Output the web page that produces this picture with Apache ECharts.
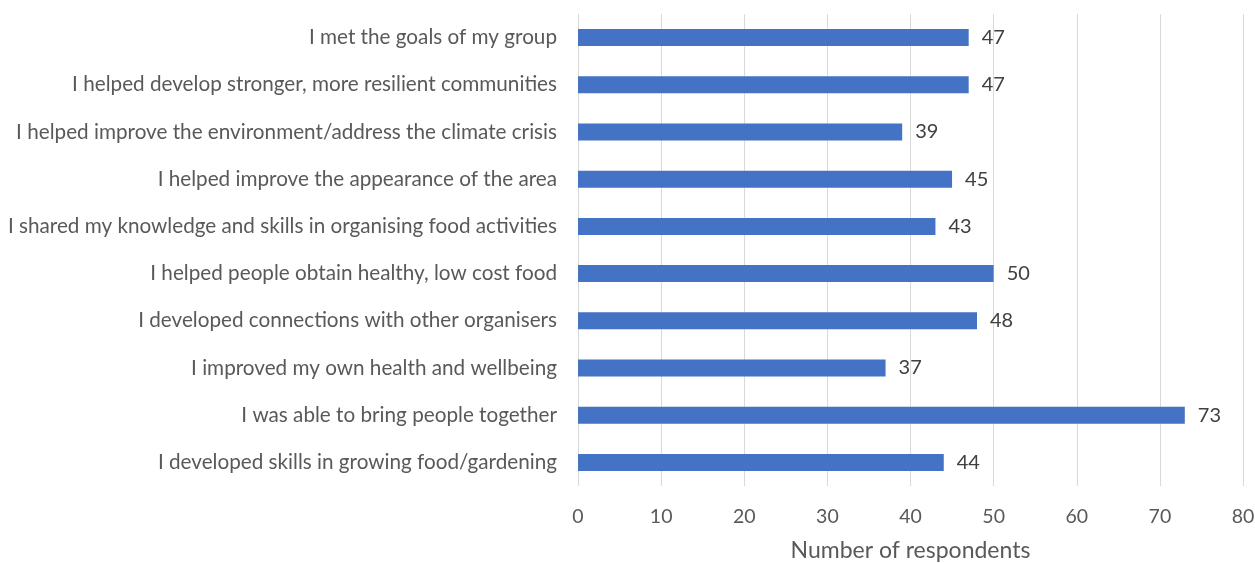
<!DOCTYPE html>
<html><head><meta charset="utf-8">
<script src="https://cdn.jsdelivr.net/npm/echarts@6/dist/echarts.min.js"></script>
<style>html,body{margin:0;padding:0;background:#fff}#c{width:1255px;height:563px}</style>
</head><body><div id="c"></div>
<script>
const categories = [
  "I developed skills in growing food/gardening",
  "I was able to bring people together",
  "I improved my own health and wellbeing",
  "I developed connections with other organisers",
  "I helped people obtain healthy, low cost food",
  "I shared my knowledge and skills in organising food activities",
  "I helped improve the appearance of the area",
  "I helped improve the environment/address the climate crisis",
  "I helped develop stronger, more resilient communities",
  "I met the goals of my group"
];
const values = [44, 73, 37, 48, 50, 43, 45, 39, 47, 47];
const xTicks = [0, 10, 20, 30, 40, 50, 60, 70, 80];
const xName = "Number of respondents";

const FONT = "Lato";
const chart = echarts.init(document.getElementById('c'), null, {renderer: 'canvas'});
chart.setOption({
  animation: false,
  textStyle: {fontFamily: FONT},
  grid: {left: 578, right: 12, top: 14, bottom: 77, containLabel: false, outerBoundsMode: 'none'},
  xAxis: {
    type: 'value', min: xTicks[0], max: xTicks[xTicks.length - 1], interval: 10,
    axisLine: {show: false}, axisTick: {show: false},
    splitLine: {show: true, lineStyle: {color: '#d9d9d9', width: 1}},
    axisLabel: {color: '#595959', fontSize: 19.5, margin: 21, fontFamily: FONT},
    name: xName, nameLocation: 'middle', nameGap: 53,
    nameTextStyle: {color: '#595959', fontSize: 23, fontFamily: FONT}
  },
  yAxis: {
    type: 'category', data: categories,
    axisLine: {show: false}, axisTick: {show: false},
    axisLabel: {color: '#595959', fontSize: 20.7, margin: 21, fontFamily: FONT}
  },
  series: [{
    type: 'bar', data: values, barWidth: 17,
    itemStyle: {color: '#4472c4'},
    label: {show: true, position: 'right', distance: 13, color: '#404040', fontSize: 20, fontFamily: FONT}
  }]
});
</script></body></html>
